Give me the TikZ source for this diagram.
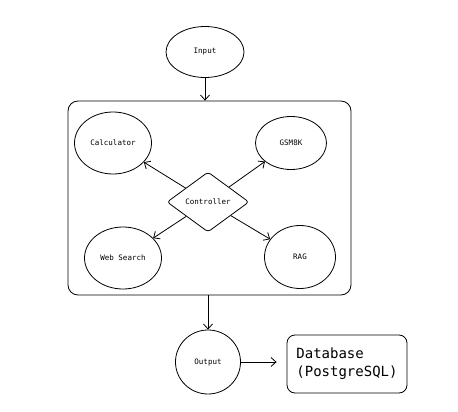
\documentclass[tikz,border=0pt]{standalone}
\usepackage{fontspec}
\setmonofont{DejaVu Sans Mono}
\usetikzlibrary{shapes.geometric,arrows.meta}
\begin{document}
\begin{tikzpicture}[x=1pt,y=1pt,line width=0.8pt,>={Straight Barb[length=5pt,width=9pt]}]
    \tikzstyle{every node}+=[inner sep=0pt,font=\ttfamily\fontsize{7.5}{9}\selectfont]
    \tikzstyle{blob}=[draw,ellipse]
    \useasboundingbox (0,0) rectangle (458,-412);
    \node (frame) [draw,rounded corners=10,minimum width=283,minimum height=194] at (209.5,-198) {};
    \node (input) [blob,minimum width=78,minimum height=51] at (205,-52) {Input};
    \node (ctrl) [draw,diamond,rounded corners=3,minimum width=82,minimum height=60] at (208,-202) {Controller};
    \node (calc) [blob,minimum width=77,minimum height=62] at (113,-143) {Calculator};
    \node (gsm) [blob,minimum width=71,minimum height=53] at (291,-143) {GSM8K};
    \node (web) [blob,minimum width=77,minimum height=62] at (123,-258) {Web Search};
    \node (rag) [blob,minimum width=71,minimum height=63] at (300,-257) {RAG};
    \node (output) [blob,minimum width=65,minimum height=64] at (208,-362) {Output};
    \node (db) [draw,rounded corners=8,minimum width=120,minimum height=58,align=left,
        font=\ttfamily\fontsize{14}{18}\selectfont] at (347,-364) {Database\\(PostgreSQL)};
    \draw [->] (input) -- (input.south |- frame.north);
    \draw [->] (ctrl) -- (calc);
    \draw [->] (ctrl) -- (gsm);
    \draw [->] (ctrl) -- (web);
    \draw [->] (ctrl) -- (rag);
    \draw [->] (output.north |- frame.south) -- (output);
    \draw [->,shorten >=10pt] (output) -- (db.west |- output);
\end{tikzpicture}
\end{document}
